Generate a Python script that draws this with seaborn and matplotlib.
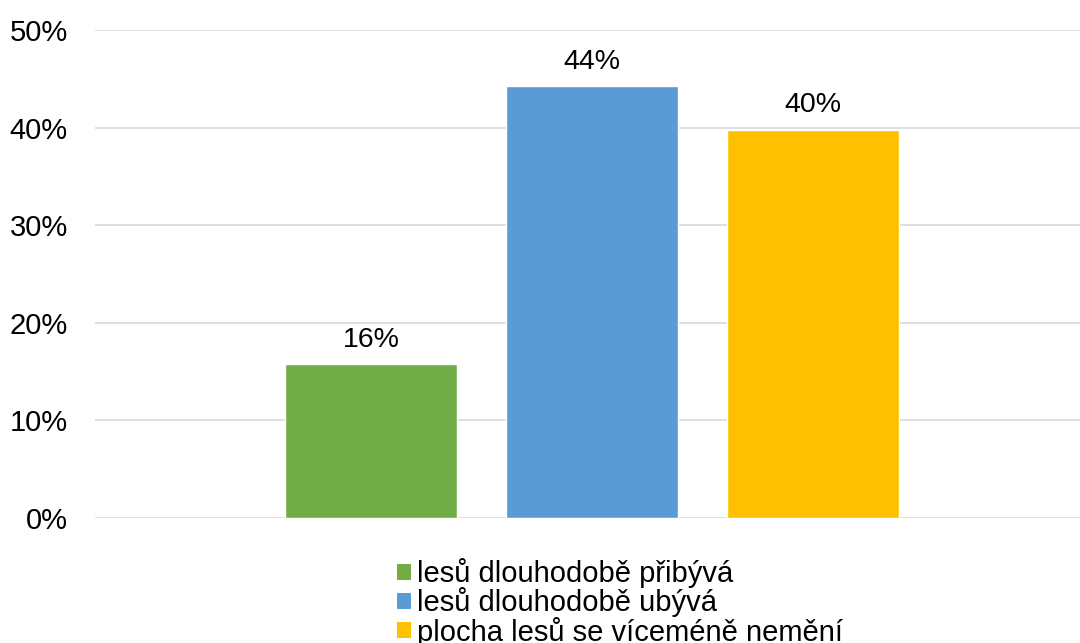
import matplotlib
matplotlib.use("Agg")
import matplotlib.pyplot as plt
import seaborn as sns
import pandas as pd
from matplotlib.patches import Patch

categories = ["lesů dlouhodobě přibývá", "lesů dlouhodobě ubývá", "plocha lesů se víceméně nemění"]
values = [15.8, 44.3, 39.8]
colors = ["#70ad47", "#5b9bd5", "#ffc000"]
yticks = [0, 10, 20, 30, 40, 50]

df = pd.DataFrame({"cat": categories, "val": values})

sns.set_style("white")
plt.rcParams["font.family"] = ["Liberation Sans", "DejaVu Sans"]

fig = plt.figure(figsize=(10.8, 6.43), dpi=100)
ax = fig.add_axes([95 / 1080, 1 - 518 / 643, 985 / 1080, 488 / 643])

sns.barplot(data=df, x="cat", y="val", hue="cat", palette=colors,
            width=0.78, saturation=1, legend=False, ax=ax, zorder=3)

# value labels above the bars
for i, v in enumerate(values):
    ax.text(i, v + 1.75, f"{v:.0f}%", ha="center", va="baseline", fontsize=20.5, color="#000000")

ax.set_ylim(0, 50)
ax.set_xlim(-1.25, 3.21)
ax.set_yticks(yticks)
ax.set_yticklabels([f"{t}%" for t in yticks], fontsize=21, color="#000000")
ax.tick_params(axis="y", length=0, pad=19.5)
ax.set_xticks([])
ax.set_xlabel("")
ax.set_ylabel("")
ax.grid(axis="y", color="#d9d9d9", linewidth=1.2, zorder=0)
sns.despine(ax=ax, left=True, bottom=True)

handles = [Patch(facecolor=c, edgecolor="none") for c in colors]
leg = fig.legend(handles, categories, loc="upper left", bbox_to_anchor=(397 / 1080, 1 - 558 / 643),
                 frameon=False, fontsize=21, handlelength=0.48, handleheight=0.48,
                 handletextpad=0.2, labelspacing=-0.025, borderpad=0, borderaxespad=0)
for t in leg.get_texts():
    t.set_color("#000000")

fig.savefig("out.png", dpi=100)
